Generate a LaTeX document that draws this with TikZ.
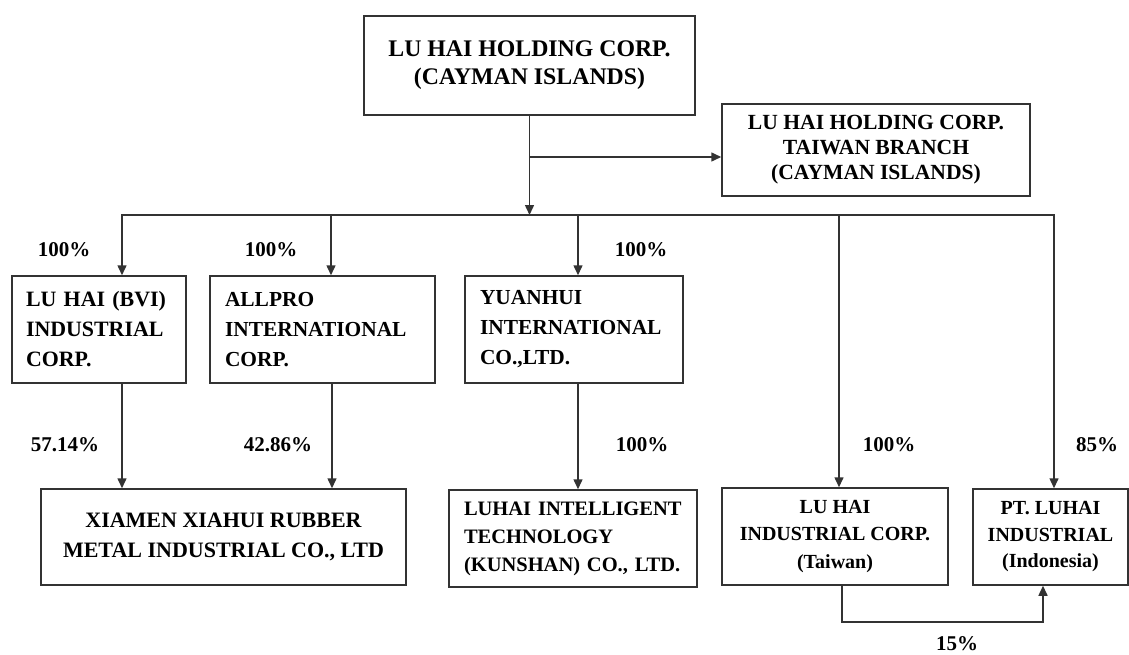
\documentclass[tikz,border=0pt]{standalone}
\usepackage{fontspec}
\setmainfont{Liberation Serif}
\usetikzlibrary{arrows.meta}
\tikzset{
  box/.style={draw=black!80, line width=1.5pt, inner sep=0pt},
  lbox/.style={box, align=left, inner xsep=15pt, text width=#1},
  cbox/.style={box, align=center},
  pct/.style={inner sep=0pt, font=\bfseries\fontsize{21}{25}\selectfont},
  wire/.style={draw=black!80, line width=1.5pt},
  arr/.style={wire, -{Triangle[length=10pt,width=9pt]}}
}
\newcommand{\boxfont}[2]{\bfseries\fontsize{#1}{#2}\selectfont}
\begin{document}
\begin{tikzpicture}[x=1pt,y=-1pt]
      \useasboundingbox (0,0) rectangle (1129,655);
      \draw
        (529.5,65.5) node[cbox, minimum width=331pt, minimum height=99pt, font=\boxfont{23.8}{28}] (top){LU HAI HOLDING CORP.\\(CAYMAN ISLANDS)}
        (876,150) node[cbox, minimum width=308pt, minimum height=92pt, font=\boxfont{21.6}{25}] (twn){LU HAI HOLDING CORP.\\TAIWAN BRANCH\\(CAYMAN ISLANDS)}
        (99,329.5) node[lbox=146pt, inner xsep=14pt, minimum height=107pt, font=\boxfont{21.9}{30}] (bvi){LU HAI (BVI)\\INDUSTRIAL\\CORP.}
        (322.5,329.5) node[lbox=195pt, minimum height=107pt, font=\boxfont{21.4}{30}] (allpro){ALLPRO\\INTERNATIONAL\\CORP.}
        (574,329.5) node[lbox=188pt, minimum height=107pt, font=\boxfont{21.4}{30}] (yuan){YUANHUI\\INTERNATIONAL\\CO.,LTD.}
        (223.5,537) node[cbox, minimum width=365pt, minimum height=96pt, font=\boxfont{22}{30}] (xiamen){XIAMEN XIAHUI RUBBER\\METAL INDUSTRIAL CO., LTD}
        (573,538.5) node[lbox=218pt, minimum height=97pt, font=\boxfont{20.5}{28}] (intel){LUHAI INTELLIGENT\\TECHNOLOGY\\(KUNSHAN) CO., LTD.}
        (835,536.5) node[cbox, minimum width=226pt, minimum height=97pt, font=\boxfont{20}{27.5}] (lhind){LU HAI\\INDUSTRIAL CORP.\\(Taiwan)}
        (1050.5,537) node[cbox, minimum width=155pt, minimum height=96pt, font=\boxfont{20}{26.5}] (pt){PT. LUHAI\\INDUSTRIAL\\(Indonesia)};
      \coordinate (fork) at (530,157);
      \coordinate (jA) at (122,215);
      \coordinate (jB) at (331,215);
      \coordinate (jC) at (578,215);
      \coordinate (jD) at (839,215);
      \coordinate (jE) at (1054,215);
      \coordinate (loopL) at (842,622);
      \coordinate (loopR) at (1043,622);
      \begin{scope}[arr]
        \draw (top.south) -- (top.south |- jA);
        \draw (fork) -- (fork -| twn.west);
        \draw (jA) -- (jA |- bvi.north);
        \draw (jB) -- (jB |- allpro.north);
        \draw (jC) -- (jC |- yuan.north);
        \draw (jD) -- (jD |- lhind.north);
        \draw (jE) -- (jE |- pt.north);
        \draw (jA |- bvi.south) -- (jA |- xiamen.north);
        \draw ([xshift=1pt]jB |- allpro.south) -- ([xshift=1pt]jB |- xiamen.north);
        \draw (jC |- yuan.south) -- (jC |- intel.north);
        \draw (loopL |- lhind.south) -- (loopL) -- (loopR) -- (loopR |- pt.south);
      \end{scope}
      \draw[wire] ([xshift=-1pt]jA) -- ([xshift=1pt]jE);
      \draw
        (64,250) node[pct] (pA){100\%}
        (271,250) node[pct] (pB){100\%}
        (641,250) node[pct] (pC){100\%}
        (65,445) node[pct] (pD){57.14\%}
        (278,445) node[pct] (pE){42.86\%}
        (642,445) node[pct] (pF){100\%}
        (889,445) node[pct] (pG){100\%}
        (1097,445) node[pct] (pH){85\%}
        (957,644) node[pct] (pI){15\%};
    \end{tikzpicture}
\end{document}
